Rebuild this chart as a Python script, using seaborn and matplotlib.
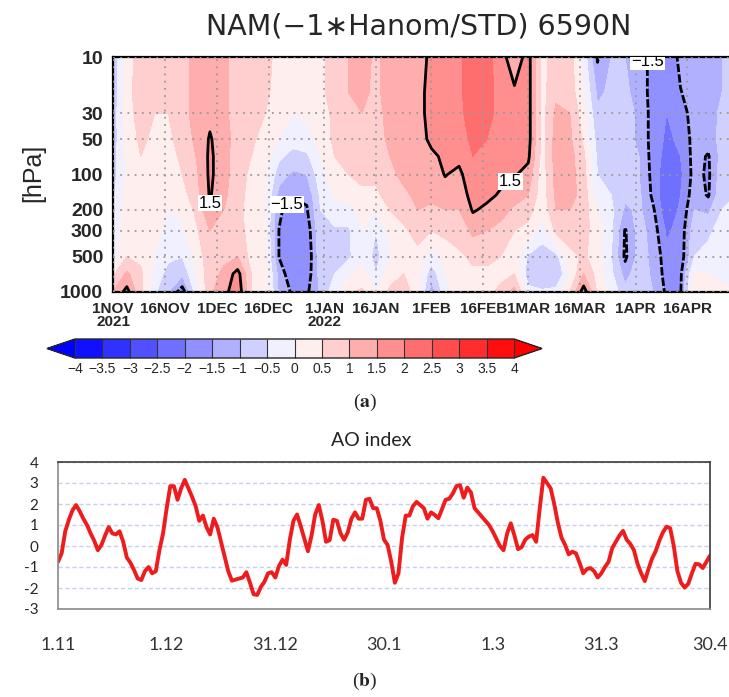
"""NAM height-anomaly cross-section (a) and daily AO index (b), winter 2021/22."""
import matplotlib
matplotlib.use("Agg")
import matplotlib.pyplot as plt
import matplotlib.dates as mdates
from matplotlib.colors import ListedColormap, BoundaryNorm
import numpy as np
import pandas as pd
import seaborn as sns

sns.set_style("white")
plt.rcParams["font.family"] = ["Liberation Sans", "DejaVu Sans"]
plt.rcParams["mathtext.fontset"] = "stix"

# ---- panel (a): NAM(-1*Hanom/STD) 65-90N, every 4 days
nam_dates = pd.date_range("2021-11-01", "2022-04-30", freq="4D")
nam_levels = [10, 20, 30, 50, 70, 100, 150, 200, 300, 500, 700, 1000]

nam_10 = [-0.9, 0.2, 0.8, 0.6, 0.6, 0.8, 1.2, 1.3, 1.1, 0.8, 0.8, 0.6, 0.4, 0.2, 0.3, 0.4,
          0.7, 1.0, 1.2, 0.9, 1.2, 1.3, 1.3, 1.6, 1.8, 1.9, 2.3, 2.2, 1.7, 1.2, 1.7, 0.3,
          0.8, 0.7, -0.2, -1.55, -1.0, -1.0, -1.2, -1.7, -1.8, -1.4, -1.3, -1.1, -1.0, -0.9]
nam_20 = [-0.9, 0.3, 0.8, 0.6, 0.6, 0.8, 1.2, 1.3, 1.1, 0.8, 0.8, 0.6, 0.3, 0.1, 0.2, 0.4,
          0.7, 1.0, 1.1, 0.9, 1.2, 1.3, 1.3, 1.7, 1.8, 1.9, 2.3, 2.2, 1.8, 1.6, 1.7, 0.3,
          0.9, 0.8, 0.0, -1.1, -0.9, -0.9, -1.2, -1.7, -1.9, -1.52, -1.3, -1.1, -1.0, -0.9]
nam_30 = [-0.8, 0.3, 0.7, 0.5, 0.5, 0.8, 1.2, 1.4, 1.1, 0.8, 0.7, 0.5, 0.2, 0.0, 0.1, 0.3,
          0.6, 0.9, 1.0, 0.8, 1.2, 1.3, 1.3, 1.7, 1.8, 1.9, 2.2, 2.1, 1.9, 1.8, 1.7, 0.3,
          1.1, 1.0, 0.2, -0.9, -0.8, -0.8, -1.1, -1.7, -2.0, -1.7, -1.3, -1.2, -0.9, -0.8]
nam_50 = [-0.8, 0.2, 0.6, 0.4, 0.4, 0.7, 1.1, 1.55, 1.2, 0.8, 0.6, 0.3, 0.0, -0.3, -0.2, 0.2,
          0.6, 0.8, 0.9, 0.8, 1.1, 1.2, 1.3, 1.6, 1.7, 1.8, 2.1, 2.0, 1.9, 1.8, 1.7, 0.3,
          1.2, 1.1, 0.4, -0.7, -0.7, -0.8, -1.1, -1.7, -2.1, -1.9, -1.3, -1.3, -0.8, -0.7]
nam_70 = [-0.7, 0.1, 0.5, 0.3, 0.3, 0.6, 1.0, 1.6, 1.2, 0.7, 0.5, 0.2, -0.4, -0.7, -0.6, 0.0,
          0.5, 0.7, 0.8, 0.7, 1.0, 1.2, 1.3, 1.4, 1.6, 1.6, 2.0, 1.9, 1.8, 1.7, 1.6, 0.3,
          1.2, 1.2, 0.6, -0.6, -0.7, -0.8, -1.0, -1.7, -2.2, -2.0, -1.3, -1.55, -0.8, -0.7]
nam_100 = [-0.7, 0.1, 0.4, 0.3, 0.2, 0.5, 0.9, 1.6, 1.2, 0.7, 0.4, 0.1, -0.8, -1.1, -1.0, -0.2,
           0.3, 0.5, 0.6, 0.6, 0.9, 1.1, 1.2, 1.3, 1.52, 1.4, 1.8, 1.8, 1.6, 1.55, 1.3, 0.2,
           1.2, 1.2, 0.7, -0.5, -0.6, -0.8, -1.0, -1.65, -2.4, -2.1, -1.3, -1.6, -0.7, -0.6]
nam_150 = [-0.6, 0.2, 0.3, 0.2, 0.1, 0.3, 0.8, 1.55, 1.1, 0.7, 0.3, 0.0, -1.2, -1.45, -1.4, -0.4,
           0.1, 0.2, 0.4, 0.4, 0.7, 0.9, 1.1, 1.1, 1.3, 1.2, 1.7, 1.6, 1.45, 1.2, 1.0, 0.2,
           1.1, 1.2, 0.8, -0.3, -0.5, -0.9, -0.9, -1.6, -2.5, -2.0, -1.2, -1.55, -0.6, -0.5]
nam_200 = [-0.5, 0.3, 0.3, 0.1, 0.0, 0.1, 0.6, 1.45, 1.0, 0.7, 0.2, 0.0, -1.4, -1.8, -1.55, -0.5,
           -0.2, -0.2, 0.2, 0.0, 0.5, 0.7, 1.0, 0.9, 1.0, 1.0, 1.55, 1.4, 1.2, 0.9, 0.7, 0.1,
           1.0, 1.0, 0.8, 0.0, -0.4, -1.1, -0.9, -1.4, -2.4, -1.9, -1.0, -1.1, -0.5, -0.4]
nam_300 = [-0.4, 0.3, 0.3, 0.1, -0.1, -0.1, 0.4, 1.0, 0.9, 0.8, 0.2, 0.0, -1.52, -2.0, -1.8, -0.6,
           -0.6, -0.6, 0.0, -0.5, 0.2, 0.4, 0.7, 0.5, 0.6, 0.7, 1.1, 1.0, 0.8, 0.5, 0.3, -0.2,
           0.6, 0.8, 0.7, 0.2, -0.4, -1.55, -0.8, -1.2, -2.1, -1.8, -0.7, -0.6, -0.3, -0.3]
nam_500 = [-0.2, 0.5, 0.4, 0.0, -0.4, -0.5, 0.2, 0.8, 0.9, 1.0, 0.3, 0.1, -1.52, -2.0, -1.9, -0.7,
           -0.7, -0.6, -0.1, -0.7, 0.0, 0.2, 0.3, -0.3, 0.2, 0.4, 0.6, 0.6, 0.5, 0.3, -0.6, -0.9,
           -0.7, 0.3, 0.6, 0.2, -0.5, -1.6, -0.8, -1.1, -1.8, -1.8, -0.5, -0.3, -0.2, -0.2]
nam_700 = [0.4, 1.1, 0.6, -0.2, -0.7, -0.9, 0.0, 0.8, 1.1, 1.7, 0.5, 0.2, -1.2, -1.9, -1.8, -0.8,
           -0.5, -0.1, 0.2, -0.5, 0.3, 0.5, 0.2, -0.8, 0.0, 0.3, 0.4, 0.4, 0.4, 0.5, -0.8, -1.0,
           -1.0, 0.0, 1.0, 0.3, -0.4, -1.2, -0.7, -1.1, -1.7, -1.6, 0.1, 0.0, -0.1, -0.1]
nam_1000 = [1.0, 1.7, 0.6, -0.4, -1.0, -1.8, -0.3, 0.9, 1.3, 1.9, 0.5, 0.3, -1.1, -1.6, -1.6, -0.9,
            -0.2, 0.4, 0.6, 0.0, 0.6, 0.7, 0.3, -1.3, -0.2, 0.3, 0.3, 0.4, 0.6, 1.2, -0.3, -0.4,
            -0.3, 0.5, 1.8, 0.4, -0.2, -0.8, -0.6, -1.0, -1.6, -1.55, 0.4, 0.1, 0.1, 0.0]

nam_field = np.array([nam_10, nam_20, nam_30, nam_50, nam_70, nam_100,
                      nam_150, nam_200, nam_300, nam_500, nam_700, nam_1000])

nam_ticks = ["2021-11-01", "2021-11-16", "2021-12-01", "2021-12-16", "2022-01-01", "2022-01-16",
             "2022-02-01", "2022-02-16", "2022-03-01", "2022-03-16", "2022-04-01", "2022-04-16"]
nam_ticklabels = ["1NOV\n2021", "16NOV", "1DEC", "16DEC", "1JAN\n2022", "16JAN",
                  "1FEB", "16FEB", "1MAR", "16MAR", "1APR", "16APR"]
p_ticks = [10, 30, 50, 100, 200, 300, 500, 1000]
shade_bounds = [-4, -3.5, -3, -2.5, -2, -1.5, -1, -0.5, 0, 0.5, 1, 1.5, 2, 2.5, 3, 3.5, 4]

# ---- panel (b): daily AO index, 1 Nov 2021 - 30 Apr 2022
ao_dates = pd.date_range("2021-11-01", "2022-04-30", freq="D")
ao_index = [
    -0.75, -0.35, 0.7, 1.25, 1.7, 1.95, 1.65, 1.3, 1.0, 0.6,
    0.25, -0.2, 0.05, 0.5, 0.9, 0.6, 0.55, 0.7, 0.2, -0.55,
    -0.8, -1.15, -1.55, -1.62, -1.2, -1.0, -1.3, -1.2, -0.2, 0.6,
    1.8, 2.85, 2.85, 2.2, 2.75, 3.15, 2.75, 2.35, 1.9, 1.2,
    1.45, 0.9, 0.55, 1.3, 0.9, 0.2, -0.5, -1.2, -1.65, -1.6,
    -1.55, -1.5, -1.25, -1.75, -2.3, -2.33, -1.95, -1.7, -1.3, -1.25,
    -1.5, -0.95, -0.65, -0.9, 0.3, 1.2, 1.5, 0.95, 0.35, -0.25,
    0.5, 1.5, 1.95, 1.2, 0.2, 0.28, 1.25, 1.2, 0.6, 0.3,
    0.65, 1.3, 1.6, 1.3, 1.3, 2.2, 2.25, 1.8, 1.8, 1.2,
    0.3, 0.05, -0.75, -1.75, -1.3, 0.4, 1.45, 1.45, 1.9, 2.1,
    1.95, 1.8, 1.3, 1.6, 1.48, 1.32, 1.75, 2.2, 2.25, 2.5,
    2.85, 2.9, 2.3, 2.78, 2.55, 1.8, 1.6, 1.4, 1.2, 1.0,
    0.7, 0.35, 0.0, -0.2, 0.6, 1.08, 0.5, -0.15, -0.05, 0.3,
    0.45, 0.52, 0.2, 1.8, 3.25, 3.0, 2.75, 2.0, 1.1, 0.4,
    0.05, -0.4, -0.27, -0.35, -0.8, -1.3, -1.1, -1.05, -1.2, -1.5,
    -1.3, -1.0, -0.75, -0.1, 0.2, 0.5, 0.72, 0.3, 0.1, -0.2,
    -0.85, -1.3, -1.67, -1.1, -0.6, -0.25, 0.25, 0.65, 0.92, 0.85,
    0.0, -1.2, -1.75, -1.98, -1.8, -1.3, -0.85, -0.87, -1.05, -0.75,
    -0.46,
]
ao_tick_labels = {"2021-11-01": "1.11", "2021-12-01": "1.12", "2021-12-31": "31.12",
                  "2022-01-30": "30.1", "2022-03-01": "1.3", "2022-03-31": "31.3",
                  "2022-04-30": "30.4"}

W, H = 729, 697
fig = plt.figure(figsize=(W / 100, H / 100), dpi=100)
narrow = ["Liberation Sans Narrow", "Liberation Sans", "DejaVu Sans"]

# ---------------- panel (a)
ax = fig.add_axes([113 / W, 1 - 292 / H, (W - 113) / W, 235 / H])
bwr = plt.cm.bwr
shade_colors = [bwr(0.5 + (b + 0.25) / 8) for b in shade_bounds[:-1]]
cmap = ListedColormap(shade_colors)
cmap.set_under(bwr(0.0))
cmap.set_over(bwr(1.0))
norm = BoundaryNorm(shade_bounds, cmap.N)

xnum = mdates.date2num(nam_dates)
cf = ax.contourf(xnum, nam_levels, nam_field, levels=shade_bounds, cmap=cmap,
                 norm=norm, extend="both", zorder=1)
cs = ax.contour(xnum, nam_levels, nam_field, levels=[-1.5, 1.5], colors="black",
                linewidths=2.0, linestyles=[(0, (3, 0.8)), "solid"], zorder=3)

ax.set_yscale("log")
ax.set_ylim(1000, 10)
ax.set_yticks(p_ticks)
ax.set_yticklabels([str(p) for p in p_ticks], fontsize=14, fontweight="bold")
ax.minorticks_off()
ax.set_xlim(mdates.date2num(pd.Timestamp("2021-11-01")),
            mdates.date2num(pd.Timestamp("2022-04-28")))
ax.set_xticks(mdates.date2num(pd.to_datetime(nam_ticks)))
ax.set_xticklabels(nam_ticklabels, fontsize=11, family=narrow, fontweight="bold",
                   linespacing=0.95)
ax.tick_params(direction="out", length=5, width=1.5, color="black", pad=2)
ax.set_axisbelow(False)
ax.grid(True, color="#9a9a9a", linestyle=(0, (1, 3)), linewidth=1.3)
for side in ["left", "top", "bottom"]:
    ax.spines[side].set_linewidth(1.6)
    ax.spines[side].set_color("black")
ax.spines["right"].set_visible(False)

label_spots = [(pd.Timestamp("2021-11-30"), 215), (pd.Timestamp("2021-12-23"), 200),
               (pd.Timestamp("2022-02-21"), 90), (pd.Timestamp("2022-04-08"), 11)]
labels = ax.clabel(cs, inline=False, fontsize=12,
                   manual=[(mdates.date2num(d), p) for d, p in label_spots],
                   fmt=lambda v: f"{v:g}".replace("-", "\u2212"))
for t in labels:
    t.set_rotation(0)
    t.set_bbox(dict(facecolor="white", edgecolor="none", pad=0.6))
    t.set_zorder(5)

fig.text(419 / W, 1 - 27 / H, "NAM(\u22121\u2217Hanom/STD) 6590N", fontsize=20.5,
         family="DejaVu Sans", ha="center", va="center")
fig.text(33 / W, 1 - 173 / H, "[hPa]", fontsize=18, rotation=90, ha="center", va="center")

# colour bar
cax = fig.add_axes([47 / W, 1 - 358 / H, (542 - 47) / W, 19 / H])
cb = fig.colorbar(cf, cax=cax, orientation="horizontal", extend="both",
                  extendfrac=28 / 440, ticks=shade_bounds, drawedges=True)
cb.set_ticklabels([f"{b:g}".replace("-", "\u2212") for b in shade_bounds])
cb.ax.tick_params(length=0, labelsize=10, pad=3)
cb.outline.set_linewidth(1.0)
cb.dividers.set_color("#333333")
cb.dividers.set_linewidth(0.8)

fig.text(365 / W, 1 - 402 / H, r"($\mathbf{a}$)", fontsize=14, family="Liberation Serif",
         ha="center", va="center")

# ---------------- panel (b)
axb = fig.add_axes([58 / W, 1 - 609 / H, 652 / W, 147 / H])
ao = pd.DataFrame({"date": ao_dates, "AO": ao_index})
sns.lineplot(data=ao, x="date", y="AO", ax=axb, color="#ee1c1c", linewidth=2.8)
axb.set_xlim(ao_dates[0], ao_dates[-1])
axb.set_ylim(-3, 4)
axb.set_yticks(range(-3, 5))
axb.set_yticklabels([str(v) for v in range(-3, 5)], fontsize=11, family="Lato")
tick_days = pd.date_range("2021-11-01", "2022-04-30", freq="10D")
axb.set_xticks(tick_days)
axb.set_xticklabels([ao_tick_labels.get(d.strftime("%Y-%m-%d"), "") for d in tick_days],
                    fontsize=13, family="Lato", color="#333333")
axb.tick_params(axis="x", direction="out", length=6, width=1, color="#777777", pad=14)
axb.tick_params(axis="y", direction="out", length=6, width=1, color="#777777", pad=8)
axb.set_xlabel("")
axb.set_ylabel("")
axb.yaxis.grid(True, color="#c3d1ec", linestyle=(0, (3, 2)), linewidth=1.0)
axb.xaxis.grid(False)
for side in ["left", "bottom"]:
    axb.spines[side].set_color("#8a8a8a")
    axb.spines[side].set_linewidth(1.2)
for side in ["top", "right"]:
    axb.spines[side].set_color("#3a3a3a")
    axb.spines[side].set_linewidth(1.2)
    axb.spines[side].set_visible(True)

fig.text(371 / W, 1 - 441 / H, "AO index", fontsize=14, family="Lato",
         ha="center", va="center", color="#222222")
fig.text(365 / W, 1 - 681 / H, r"($\mathbf{b}$)", fontsize=14, family="Liberation Serif",
         ha="center", va="center")

fig.savefig("out.png", dpi=100)
